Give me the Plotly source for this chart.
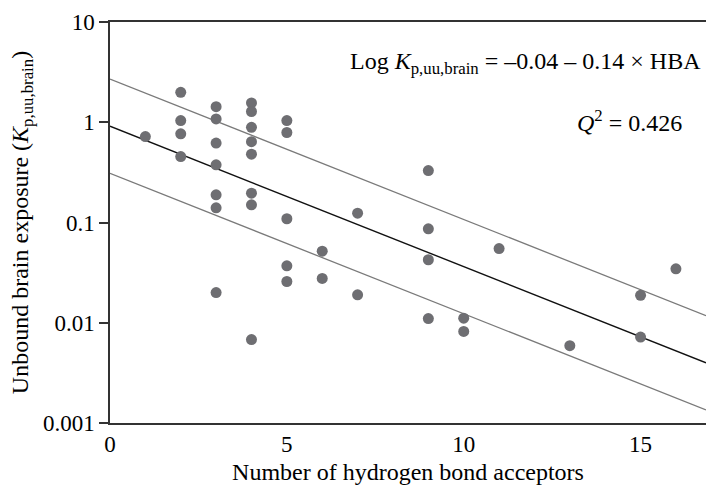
import plotly.graph_objects as go

# Data
hba = [1, 2, 2, 2, 2, 3, 3, 3, 3, 3, 3, 3, 4, 4, 4, 4, 4, 4, 4, 4,
       5, 5, 5, 5, 5, 6, 6, 7, 7, 9, 9, 9, 9, 10, 10, 11, 13, 15, 15, 16]
kp_uu_brain = [0.72, 1.99, 1.04, 0.766, 0.455,
               1.43, 1.08, 0.62, 0.376, 0.189, 0.14, 0.020,
               1.56, 1.28, 0.89, 0.64, 0.48, 0.196, 0.15, 0.0068,
               1.04, 0.79, 0.109, 0.037, 0.0258,
               0.0518, 0.0277, 0.124, 0.019,
               0.33, 0.0865, 0.0425, 0.011,
               0.0111, 0.0082, 0.055, 0.0059, 0.0188, 0.0072, 0.0345]

intercept = -0.04
slope = -0.14
band = 0.47
x_line = [0, 16.85]

y_tickvals = [0.001, 0.01, 0.1, 1, 10]
y_ticktext = ["0.001", "0.01", "0.1", "1", "10"]
x_tickvals = [0, 5, 10, 15]

def line_y(off):
    return [10 ** (intercept + off + slope * x) for x in x_line]

FONT = "Liberation Serif"
FS_TICK = 23
FS = 24

fig = go.Figure()
fig.add_trace(go.Scatter(x=x_line, y=line_y(band), mode="lines",
                         line=dict(color="#7a7a7a", width=1.3), hoverinfo="skip"))
fig.add_trace(go.Scatter(x=x_line, y=line_y(-band), mode="lines",
                         line=dict(color="#7a7a7a", width=1.3), hoverinfo="skip"))
fig.add_trace(go.Scatter(x=x_line, y=line_y(0), mode="lines",
                         line=dict(color="#111111", width=1.4), hoverinfo="skip"))
fig.add_trace(go.Scatter(x=hba, y=kp_uu_brain, mode="markers",
                         marker=dict(color="#6e6e72", size=11)))

fig.update_layout(
    width=706, height=493,
    margin=dict(l=110, r=0, t=22, b=70),
    paper_bgcolor="white", plot_bgcolor="white",
    showlegend=False,
    font=dict(family=FONT, size=FS, color="black"),
    xaxis=dict(range=[0, 16.85], tickvals=x_tickvals, ticks="", showgrid=False,
               zeroline=False, showline=True, linecolor="#333333", linewidth=1.5,
               mirror=True,
               title=dict(text="Number of hydrogen bond acceptors", standoff=7,
                          font=dict(family=FONT, size=FS)),
               tickfont=dict(family=FONT, size=FS_TICK)),
    yaxis=dict(type="log", range=[-3, 1], tickvals=y_tickvals, ticktext=y_ticktext,
               ticks="outside", ticklen=9, tickcolor="#333333", tickwidth=1.5,
               showgrid=False, zeroline=False, showline=True, linecolor="#333333",
               linewidth=1.5,
               title=dict(text="Unbound brain exposure (<i>K</i><sub>p,uu,brain</sub>)",
                          standoff=8, font=dict(family=FONT, size=FS)),
               tickfont=dict(family=FONT, size=FS_TICK)),
    annotations=[
        dict(text="Log <i>K</i><sub>p,uu,brain</sub> = \u20130.04 \u2013 0.14 \u00d7 HBA",
             xref="paper", yref="paper", x=0.995, y=0.897, xanchor="right",
             yanchor="middle", showarrow=False, font=dict(family=FONT, size=FS)),
        dict(text="<i>Q</i><sup>2</sup> = 0.426",
             xref="paper", yref="paper", x=0.963, y=0.752, xanchor="right",
             yanchor="middle", showarrow=False, font=dict(family=FONT, size=FS)),
    ],
)

fig.write_html("out.html", config={"displayModeBar": False},
               post_script="document.body.style.margin='0';document.body.style.overflow='hidden';")
